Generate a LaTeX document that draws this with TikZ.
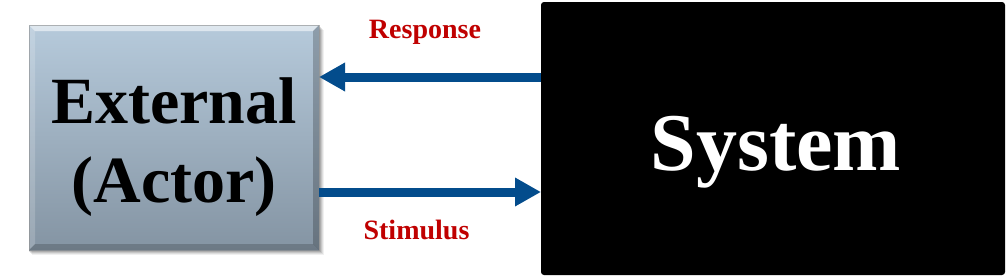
\documentclass[tikz,border=0pt]{standalone}
\usepackage{fontspec}
\setmainfont{Liberation Serif}
\usetikzlibrary{arrows.meta,calc}
\definecolor{arrblue}{HTML}{034C8C}
\definecolor{lblred}{HTML}{C00000}
\definecolor{boxtop}{HTML}{B6CADB}
\definecolor{boxbot}{HTML}{8494A3}
\tikzset{
  flowarrow/.style={draw=arrblue, line width=9pt, -{Triangle[length=26pt,width=27pt]}},
  lbl/.style={text=lblred, font=\fontsize{28}{30}\selectfont\bfseries, anchor=base, inner sep=0pt},
  bigtxt/.style={font=\fontsize{66}{79}\selectfont\bfseries, align=center, inner sep=0pt},
}
\begin{document}
\begin{tikzpicture}[x=1pt,y=-1pt]
\useasboundingbox[fill=white] (0,0) rectangle (1008,276);
% shadow of external box
\foreach \o/\op in {5/0.06,4/0.08,3/0.10,2/0.12}{
  \fill[black,opacity=\op] (29+\o-2,25+\o) rectangle (319+\o,250+\o);
}
% external box
\node[minimum width=290pt, minimum height=225pt, inner sep=0pt, outer sep=0pt,
      shading=axis, top color=boxtop, bottom color=boxbot] (ext) at (174,137.5) {};
% bevels
\fill[color=white,opacity=0.55] (ext.north west) -- (ext.north east) -- ++(-6,6) -- ($(ext.north west)+(6,6)$) -- cycle;
\fill[color=white,opacity=0.18] (ext.north west) -- ($(ext.north west)+(6,6)$) -- ($(ext.south west)+(6,-6)$) -- (ext.south west) -- cycle;
\fill[color=black,opacity=0.22] (ext.north east) -- (ext.south east) -- ++(-6,-6) -- ($(ext.north east)+(-6,6)$) -- cycle;
\fill[color=black,opacity=0.18] (ext.south west) -- ($(ext.south west)+(6,-6)$) -- ($(ext.south east)+(-6,-6)$) -- (ext.south east) -- cycle;
\draw[color=black!45,opacity=0.6,line width=1pt] (ext.north west) rectangle (ext.south east);
\node[bigtxt] (exttxt) at (174,147) {External\\(Actor)};
% system box
\node[fill=black, rounded corners=3pt, minimum width=464pt, minimum height=273pt,
      inner sep=0pt, outer sep=0pt, text=white, font=\fontsize{82}{90}\selectfont\bfseries,
      text height=63pt, text depth=0pt] (sys) at (773,138.5) {\hspace*{6pt}System};
% arrows
\draw[flowarrow] (sys.west |- 0,77) -- (ext.east |- 0,77);
\draw[flowarrow] (ext.east |- 0,192) -- (sys.west |- 0,192);
% labels
\node[lbl] (resp) at (425,38) {Response};
\node[lbl] (stim) at (416.5,239) {Stimulus};
\end{tikzpicture}
\end{document}
